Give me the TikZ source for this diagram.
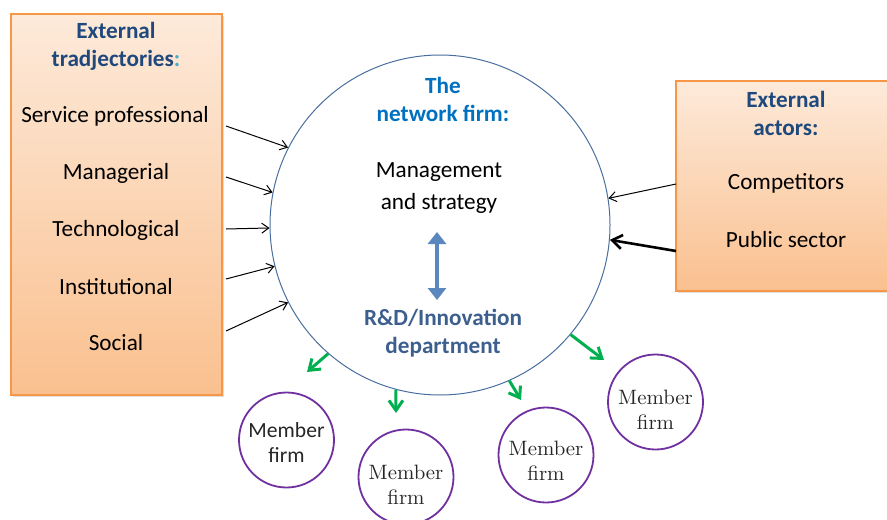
\documentclass[tikz,border=0pt]{standalone}
\usepackage{fontspec}
\newfontfamily\calib{Carlito}
\usetikzlibrary{arrows.meta,shadows}

\definecolor{boxtop}{HTML}{FDEADA}
\definecolor{boxbot}{HTML}{FAC08F}
\definecolor{boxline}{HTML}{F79646}
\definecolor{headblue}{HTML}{1F497D}
\definecolor{colonblue}{HTML}{4BACC6}
\definecolor{firmblue}{HTML}{0070C0}
\definecolor{ringblue}{HTML}{4A6E9E}
\definecolor{rdblue}{HTML}{3C5F8E}
\definecolor{linkblue}{HTML}{5B87BF}
\definecolor{memgreen}{HTML}{00B050}
\definecolor{mempurple}{HTML}{7030A0}

\tikzset{
  extbox/.style={draw=boxline, line width=0.7pt, top color=boxtop, bottom color=boxbot,
    drop shadow={opacity=0.25, shadow xshift=1pt, shadow yshift=-1pt}},
  item/.style={font=\calib\fontsize{11.6}{13}\selectfont, inner sep=0pt},
  head/.style={font=\calib\bfseries\fontsize{11.6}{14}\selectfont, text=headblue, align=center, inner sep=0pt},
  ring/.style={circle, draw=ringblue, line width=0.5pt, minimum size=170pt, inner sep=0pt},
  member/.style={circle, draw=mempurple, line width=0.9pt, minimum size=47.5pt, inner sep=0pt},
  memtext/.style={align=center, text=black!85, inner sep=0pt, font=\fontsize{10.4}{12.5}\selectfont},
  inarrow/.style={-{Straight Barb[length=3.5pt,width=5pt]}, line width=0.5pt},
  bigarrow/.style={-{Straight Barb[length=5pt,width=7pt]}, line width=1.3pt},
  outarrow/.style={-{Straight Barb[length=5pt,width=7pt]}, memgreen, line width=1.5pt},
  linkarrow/.style={{Triangle[length=6pt,width=9pt]}-{Triangle[length=6pt,width=9pt]}, linkblue, line width=1.8pt}
}

\begin{document}
\begin{tikzpicture}[x=0.5pt,y=-0.5pt]
  \useasboundingbox (0,0) rectangle (887,519);

  % boxes on both sides
  \node[extbox, minimum width=105.5pt, minimum height=190.5pt] (trajbox) at (116.5,204.5) {};
  \node[extbox, minimum width=106pt, minimum height=105pt] (actbox) at (782,186) {};

  \node[head] (trajhead) at (116,46) {External\\tradjectories{\color{colonblue}:}};
  \node[item] (serv) at (115,116) {Service professional};
  \node[item] (manag) at (116,173) {Managerial};
  \node[item] (techn) at (116,230) {Technological};
  \node[item] (inst) at (116,287) {Institutional};
  \node[item] (soc) at (116,343) {Social};

  \node[head] (acthead) at (786,113) {External\\actors:};
  \node[item] (comp) at (786,183) {Competitors};
  \node[item] (publ) at (786,240) {Public sector};

  % the network firm
  \node[ring] (net) at (440,225) {};
  \node[head, text=firmblue] (nethead) at (443,99) {The\\network firm:};
  \node[item, align=center, font=\calib\fontsize{11.6}{16}\selectfont] (mgmt) at (439,188) {Management\\and strategy};
  \node[head, text=rdblue] (rd) at (443,333) {R\&D/Innovation\\department};
  \draw[linkarrow] (437,232) -- (437,300);

  % member firms
  \node[member, label={[memtext, font=\calib\fontsize{10.8}{12.5}\selectfont, yshift=-1pt]center:Member\\firm}] (m1) at (286.5,440) {};
  \node[member, label={[memtext, yshift=-4pt]center:Member\\firm}] (m2) at (406,477) {};
  \node[member, label={[memtext, yshift=-3pt]center:Member\\firm}] (m3) at (546,455) {};
  \node[member, label={[memtext, yshift=-4pt]center:Member\\firm}] (m4) at (655.5,402) {};

  % arrows into the firm
  \foreach \y/\a [count=\i] in {126/153.6,177/169,229/181,279/194,331/207.5} {
    \coordinate (t\i) at (226,\y);
    \draw[inarrow] (t\i) -- (net.\a);
  }
  \coordinate (c1) at (676,184);
  \coordinate (c2) at (676,251);
  \draw[inarrow] (c1) -- (net.9.7);
  \draw[bigarrow] (c2) -- (net.-5);

  % arrows out to members
  \coordinate (g1) at (307,372);
  \coordinate (g2) at (396,413);
  \coordinate (g3) at (521,400);
  \coordinate (g4) at (604,360);
  \draw[outarrow] (net.229.5) -- (g1);
  \draw[outarrow] (net.255) -- (g2);
  \draw[outarrow] (net.-66) -- (g3);
  \draw[outarrow] (net.-40) -- (g4);
\end{tikzpicture}
\end{document}
